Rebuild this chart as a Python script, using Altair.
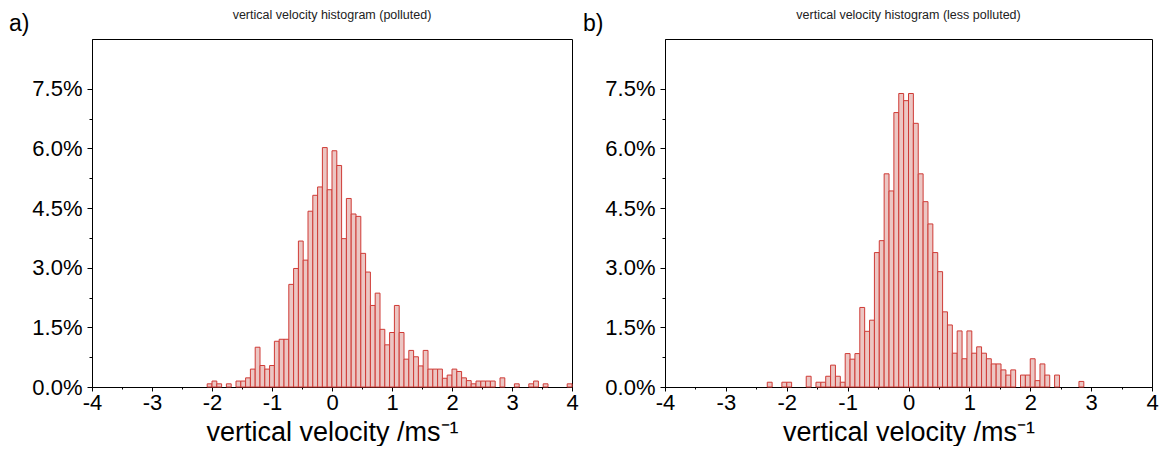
import altair as alt
import pandas as pd

FONT = "Liberation Sans"
BIN_WIDTH = 0.08
STROKE = "#cf3b36"
FILL = "#ecc6c3"

# panel a) polluted: first bin index (left edge = index * BIN_WIDTH)
pol_start = -26
pol_values = [0.08, 0.15, 0.08, 0, 0.08, 0, 0.15, 0.15, 0.23, 0.45,
              1.0, 0.54, 0.45, 0.54, 1.15, 1.2, 1.2, 2.58, 2.98, 3.67,
              3.19, 4.42, 4.82, 5.03, 6.02, 4.96,
              5.94, 5.57, 3.73, 4.74, 4.35, 4.29, 3.36, 2.89, 2.05, 2.36,
              1.45, 1.06, 1.37, 2.05, 1.37, 0.7, 0.92, 0.76, 0.53, 0.92,
              0.45, 0.45, 0.45, 0.22, 0.3, 0.45, 0.39, 0.23, 0.16, 0.08,
              0.15, 0.15, 0.15, 0.15, 0, 0.23, 0, 0, 0.08, 0,
              0, 0.08, 0.15, 0, 0.08, 0, 0, 0, 0, 0.08]

# panel b) less polluted
les_start = -29
les_values = [0.12, 0, 0, 0.12, 0.12, 0, 0, 0, 0.27, 0,
              0.12, 0.12, 0.27, 0.55, 0.27, 0.12, 0.84, 0.7, 0.84, 2.0,
              1.4, 1.68, 3.38, 3.68, 5.36, 4.93, 6.9, 7.38, 7.2,
              7.38, 6.63, 5.36, 4.66, 4.1, 3.38, 2.9, 1.89, 1.56, 0.85,
              1.41, 0.71, 1.41, 0.85, 1.01, 0.85, 0.71, 0.58, 0.58, 0.43,
              0.3, 0.43, 0, 0.3, 0.3, 0.71, 0.16, 0.58, 0.3, 0,
              0.3, 0, 0, 0, 0, 0.14]

x_ticks = [-4, -3.5, -3, -2.5, -2, -1.5, -1, -0.5, 0, 0.5, 1, 1.5, 2, 2.5, 3, 3.5, 4]
y_ticks = [0, 0.75, 1.5, 2.25, 3.0, 3.75, 4.5, 5.25, 6.0, 6.75, 7.5]

titles = ["vertical velocity histogram (polluted)", "vertical velocity histogram (less polluted)"]
tags = ["a)", "b)"]
x_title = "vertical velocity /ms\u207b\u00b9"

H = 348


def panel(start, values, title, tag, tag_x, width):
    df = pd.DataFrame({"idx": list(range(start, start + len(values))), "pct": values})
    df = df[df["pct"] > 0].copy()
    df["x0"] = df["idx"] * BIN_WIDTH
    df["x1"] = (df["idx"] + 1) * BIN_WIDTH

    bars = alt.Chart(df).mark_rect(fill=FILL, stroke=STROKE, strokeWidth=1).encode(
        x=alt.X("x0:Q",
                scale=alt.Scale(domain=[-4, 4], nice=False, zero=False),
                axis=alt.Axis(values=x_ticks, labelFlush=False,
                              labelExpr="datum.value % 1 === 0 ? '' + datum.value : ''",
                              tickSize={"condition": {"test": "datum.value % 1 !== 0", "value": 2}, "value": 4},
                              labelBaseline="middle", labelPadding=11, titlePadding=6,
                              title=x_title, grid=False)),
        x2="x1:Q",
        y=alt.Y("pct:Q",
                scale=alt.Scale(domain=[0, 8.75], nice=False),
                axis=alt.Axis(values=y_ticks, labelFlush=False,
                              labelExpr="abs(datum.value/1.5 - round(datum.value/1.5)) < 0.01 ? format(datum.value, '.1f') + '%' : ''",
                              tickSize={"condition": {"test": "abs(datum.value/1.5 - round(datum.value/1.5)) > 0.01", "value": 3}, "value": 5},
                              labelPadding=5, title=None, grid=False)),
        y2=alt.datum(0),
    )
    tag_mark = alt.Chart(pd.DataFrame({"t": [tag]})).mark_text(
        align="left", baseline="alphabetic", fontSize=23, font=FONT, color="black"
    ).encode(text="t:N", x=alt.value(tag_x), y=alt.value(-8))
    title_mark = alt.Chart(pd.DataFrame({"t": [title]})).mark_text(
        align="center", baseline="alphabetic", fontSize=12.5, font=FONT, color="#222222"
    ).encode(text="t:N", x=alt.value(width / 2), y=alt.value(-20))
    return alt.layer(bars, tag_mark, title_mark).properties(width=width, height=H)


left = panel(pol_start, pol_values, titles[0], tags[0], -83, 480)
right = panel(les_start, les_values, titles[1], tags[1], -82, 487)

chart = alt.hconcat(left, right, spacing=93, bounds="flush").properties(
    padding={"left": 0, "top": 0, "right": 0, "bottom": 0}
).configure_view(stroke="black", strokeWidth=1).configure_axis(
    domainColor="black", tickColor="black", labelColor="black", titleColor="black",
    labelFont=FONT, labelFontSize=22, titleFont=FONT, titleFontSize=27,
    titleFontWeight="normal",
)

chart.save("out.html", embed_options={"renderer": "svg", "actions": False})
